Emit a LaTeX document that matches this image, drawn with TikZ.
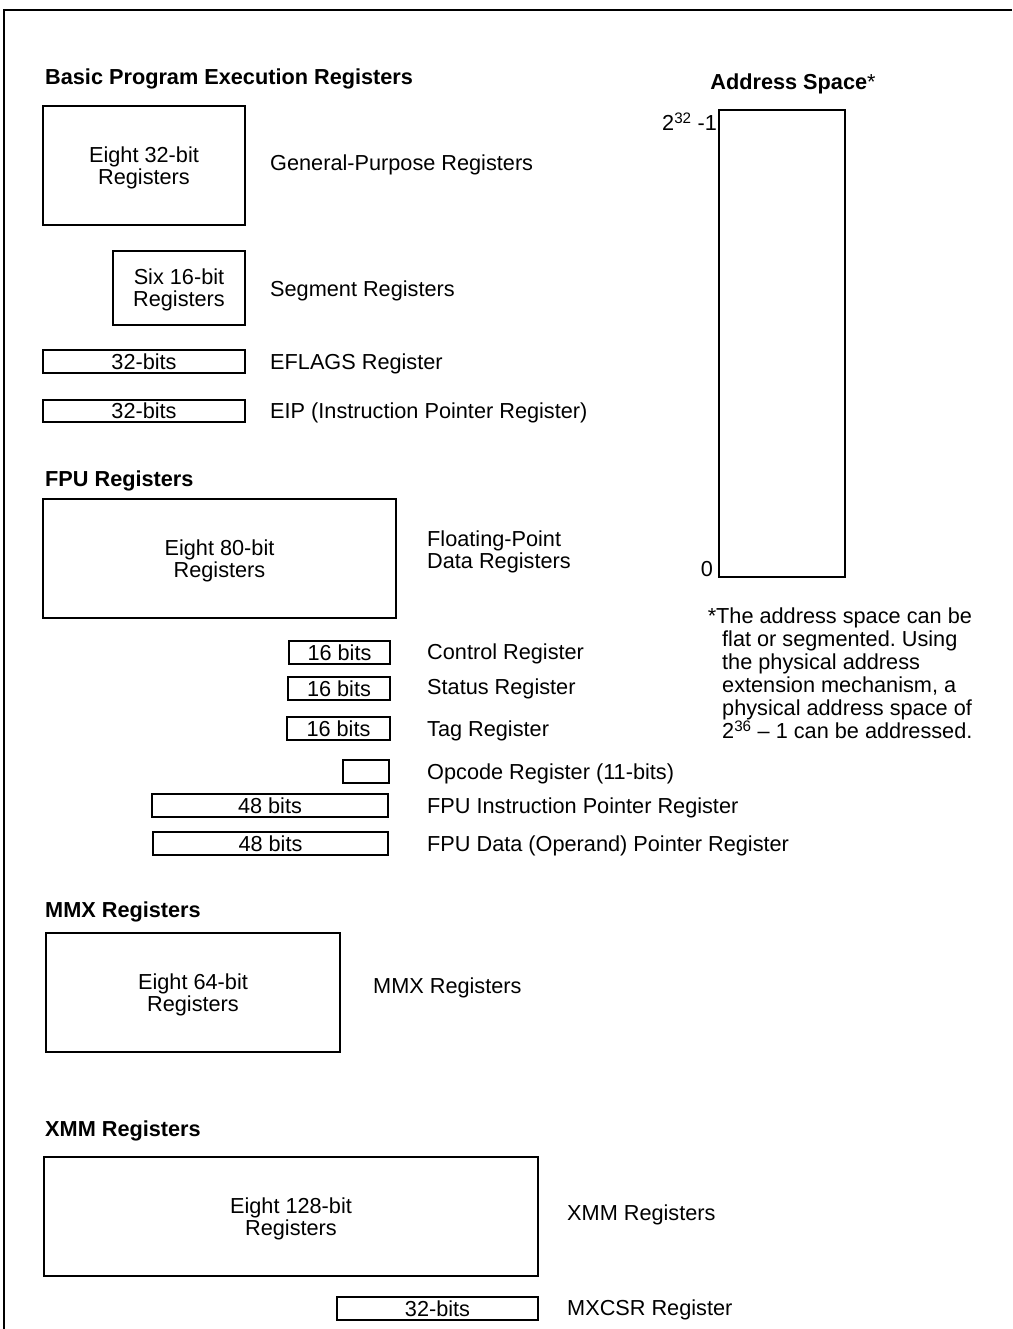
\documentclass[tikz,border=0pt]{standalone}
\usepackage{fontspec}
\setmainfont{Liberation Sans}
\usetikzlibrary{positioning}
\frenchspacing

\tikzset{
  regbox/.style={draw, line width=1.6pt, inner sep=0pt, align=center, text depth=0pt},
  reglabel/.style={anchor=west, inner sep=0pt, align=left, yshift=-2pt},
  heading/.style={anchor=west, inner sep=0pt, yshift=-2pt, font=\fontsize{21.7pt}{22pt}\selectfont\bfseries}
}

\begin{document}
\begin{tikzpicture}[x=1pt, y=-1pt, font=\fontsize{21.7pt}{22pt}\selectfont]
    \useasboundingbox (0,0) rectangle (1012,1329);
    % Frame
    \draw[line width=2.6pt] (1012,10) -- (4,10) -- (4,1329);

    % Basic program execution registers
    \node[heading] (basichead) at (45,77) {Basic Program Execution Registers};
    \node[regbox, minimum width=202pt, minimum height=119pt] (gpr) at (144,165.5) {Eight 32-bit\\Registers};
    \node[reglabel] (gprlabel) at (270,163) {General-Purpose Registers};
    \node[regbox, minimum width=132pt, minimum height=74pt] (seg) at (179,288) {Six 16-bit\\Registers};
    \node[reglabel] (seglabel) at (270,289) {Segment Registers};
    \node[regbox, minimum width=202pt, minimum height=23pt] (eflags) at (144,361.5) {32-bits};
    \node[reglabel] (eflagslabel) at (270,362) {EFLAGS Register};
    \node[regbox, minimum width=202pt, minimum height=22pt] (eip) at (144,411) {32-bits};
    \node[reglabel] (eiplabel) at (270,411) {EIP (Instruction Pointer Register)};

    % FPU registers
    \node[heading] (fpuhead) at (45,479) {FPU Registers};
    \node[regbox, minimum width=353pt, minimum height=119pt] (fpudata) at (219.5,558.5) {Eight 80-bit\\Registers};
    \node[reglabel] (fpudatalabel) at (427,550) {Floating-Point\\Data Registers};
    \node[regbox, minimum width=101pt, minimum height=23pt] (ctrl) at (339.5,652.5) {16 bits};
    \node[reglabel] (ctrllabel) at (427,652) {Control Register};
    \node[regbox, minimum width=102pt, minimum height=23pt] (status) at (339,688.5) {16 bits};
    \node[reglabel] (statuslabel) at (427,687) {Status Register};
    \node[regbox, minimum width=103pt, minimum height=23pt] (tag) at (338.5,728.5) {16 bits};
    \node[reglabel] (taglabel) at (427,729) {Tag Register};
    \node[regbox, minimum width=46pt, minimum height=23pt] (opcode) at (366,771.5) {};
    \node[reglabel] (opcodelabel) at (427,772) {Opcode Register (11-bits)};
    \node[regbox, minimum width=236pt, minimum height=23pt] (fip) at (270,805.5) {48 bits};
    \node[reglabel] (fiplabel) at (427,806) {FPU Instruction Pointer Register};
    \node[regbox, minimum width=235pt, minimum height=23pt] (fdp) at (270.5,843.5) {48 bits};
    \node[reglabel] (fdplabel) at (427,844) {FPU Data (Operand) Pointer Register};

    % MMX registers
    \node[heading] (mmxhead) at (45,910) {MMX Registers};
    \node[regbox, minimum width=294pt, minimum height=119pt] (mmx) at (193,992.5) {Eight 64-bit\\Registers};
    \node[reglabel] (mmxlabel) at (373,986) {MMX Registers};

    % XMM registers
    \node[heading] (xmmhead) at (45,1129) {XMM Registers};
    \node[regbox, minimum width=494pt, minimum height=119pt] (xmm) at (291,1216.5) {Eight 128-bit\\Registers};
    \node[reglabel] (xmmlabel) at (567,1213) {XMM Registers};
    \node[regbox, minimum width=201pt, minimum height=23pt] (mxcsr) at (437.5,1308.5) {32-bits};
    \node[reglabel] (mxcsrlabel) at (567,1308) {MXCSR Register};

    % Address space
    \node[inner sep=0pt, yshift=-2pt] (ashead) at (793,82) {\textbf{Address Space}*};
    \node[regbox, minimum width=126pt, minimum height=467pt] (aspace) at (782,343.5) {};
    \node[anchor=north east, inner sep=0pt] (astop) at ([xshift=-1pt, yshift=-3pt]aspace.north west) {2\textsuperscript{32} -1};
    \node[anchor=south east, inner sep=0pt] (asbottom) at ([xshift=-5pt, yshift=1pt]aspace.south west) {0};
    \node[anchor=north west, inner sep=0pt, align=left, font=\fontsize{21.7pt}{23pt}\selectfont] (asnote) at (722,608)
      {\hspace*{-6pt}\llap{*}The address space can be\\flat or segmented. Using\\the physical address\\extension mechanism, a\\physical address space of\\2\textsuperscript{36} – 1 can be addressed.};
  \end{tikzpicture}
\end{document}
